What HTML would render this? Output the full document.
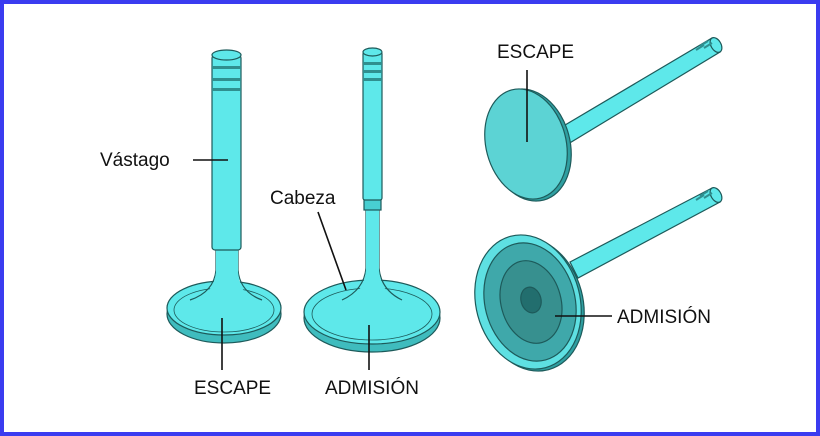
<!DOCTYPE html>
<html><head><meta charset="utf-8"><style>
html,body{margin:0;padding:0;background:#fff}
svg{display:block}
text{font-family:"Liberation Sans",sans-serif;font-size:19px;fill:#111}
</style></head><body>
<svg width="820" height="436" viewBox="0 0 820 436">
<rect x="2" y="2" width="816" height="432" fill="#fff" stroke="#3a3cf0" stroke-width="4"/>
<g stroke="#1d5a5a" stroke-width="1.2" fill="#5ee8ea">
 <!-- valve 1 escape -->
 <g>
  <ellipse cx="224" cy="314" rx="57" ry="29" fill="#3fbcbe"/>
  <ellipse cx="224" cy="308" rx="57" ry="27"/>
  <ellipse cx="224" cy="310" rx="50" ry="22" fill="none" stroke-width="0.8"/>
  <path d="M216 250 L216 270 Q214 292 190 300 M238 250 L238 270 Q240 292 262 300" fill="none"/>
  <path d="M216 250 L216 272 Q214 290 200 298 L250 298 Q240 290 238 272 L238 250Z" stroke="none"/>
  <rect x="212" y="55" width="29" height="195" rx="3"/>
  <ellipse cx="226.5" cy="55" rx="14.5" ry="5"/>
  <rect x="212" y="66" width="29" height="3" fill="#2f8f8f" stroke="none"/>
  <rect x="212" y="78" width="29" height="3" fill="#2f8f8f" stroke="none"/>
  <rect x="212" y="88" width="29" height="3" fill="#2f8f8f" stroke="none"/>
 </g>
 <!-- valve 2 admision -->
 <g>
  <ellipse cx="372" cy="318" rx="68" ry="34" fill="#3fbcbe"/>
  <ellipse cx="372" cy="312" rx="68" ry="32"/>
  <ellipse cx="372" cy="314" rx="60" ry="26" fill="none" stroke-width="0.8"/>
  <path d="M366 210 L366 268 Q364 290 342 300 M379 210 L379 268 Q381 290 402 300" fill="none"/>
  <path d="M366 210 L366 270 Q364 290 350 298 L395 298 Q381 290 379 270 L379 210Z" stroke="none"/>
  <rect x="364" y="198" width="17" height="12" fill="#48cfd1"/>
  <rect x="363" y="52" width="19" height="148" rx="2"/>
  <ellipse cx="372.5" cy="52" rx="9.5" ry="4"/>
  <rect x="363" y="62" width="19" height="3" fill="#2f8f8f" stroke="none"/>
  <rect x="363" y="70" width="19" height="3" fill="#2f8f8f" stroke="none"/>
  <rect x="363" y="78" width="19" height="3" fill="#2f8f8f" stroke="none"/>
 </g>
 <!-- right top escape -->
 <g>
  <path d="M560 128 L712 38 L720 52 L568 144Z"/>
  <ellipse cx="716" cy="45" rx="5" ry="8" transform="rotate(-30 716 45)"/>
  <path d="M700 46 l8 -5 M704 48 l8 -5 M696 50 l8 -5" stroke="#2f8f8f" stroke-width="2"/>
  <ellipse cx="529" cy="145" rx="41" ry="57" transform="rotate(-15 529 145)" fill="#2f9fa1"/>
  <ellipse cx="526" cy="144" rx="40" ry="56" transform="rotate(-15 526 144)" fill="#5cd3d4"/>
 </g>
 <!-- right bottom admission -->
 <g>
  <path d="M570 262 L712 188 L720 202 L578 278Z"/>
  <ellipse cx="716" cy="195" rx="5" ry="8" transform="rotate(-30 716 195)"/>
  <path d="M700 196 l8 -5 M704 198 l8 -5 M696 200 l8 -5" stroke="#2f8f8f" stroke-width="2"/>
  <ellipse cx="531" cy="304" rx="52" ry="68" transform="rotate(-15 531 304)" fill="#2f9fa1"/>
  <ellipse cx="528" cy="302" rx="52" ry="68" transform="rotate(-15 528 302)" fill="#5ee0e2"/>
  <ellipse cx="530" cy="302" rx="45" ry="60" transform="rotate(-15 530 302)" fill="#3fa8aa"/>
  <ellipse cx="531" cy="302" rx="30" ry="42" transform="rotate(-15 531 302)" fill="#37908f"/>
  <ellipse cx="531" cy="300" rx="10" ry="13" transform="rotate(-15 531 300)" fill="#226e6e"/>
 </g>
</g>
<g stroke="#111" stroke-width="1.6">
 <line x1="193" y1="160" x2="228" y2="160"/>
 <line x1="318" y1="212" x2="346" y2="290"/>
 <line x1="222" y1="318" x2="222" y2="370"/>
 <line x1="369" y1="325" x2="369" y2="370"/>
 <line x1="527" y1="70" x2="527" y2="142"/>
 <line x1="555" y1="316" x2="612" y2="316"/>
</g>
<text x="100" y="166">Vástago</text>
<text x="270" y="204">Cabeza</text>
<text x="194" y="394">ESCAPE</text>
<text x="325" y="394">ADMISIÓN</text>
<text x="497" y="58">ESCAPE</text>
<text x="617" y="323">ADMISIÓN</text>
</svg>
</body></html>
